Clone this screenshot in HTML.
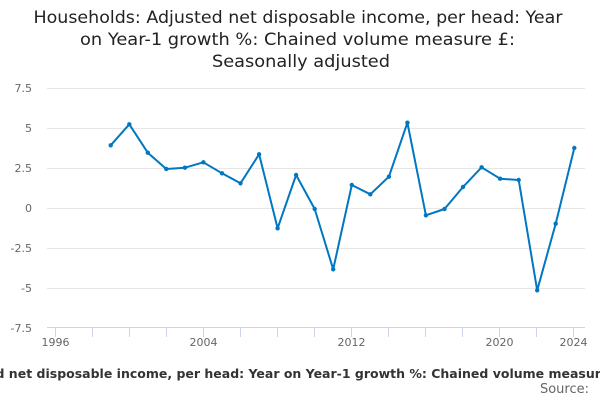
<!DOCTYPE html>
<html><head><meta charset="utf-8"><style>
html,body{margin:0;padding:0;background:#fff;}
svg{display:block;font-family:"DejaVu Sans","Liberation Sans",sans-serif;}
</style></head><body>
<svg width="600" height="400" viewBox="0 0 600 400" xmlns="http://www.w3.org/2000/svg">
<rect width="600" height="400" fill="#fff"/>
<g font-size="16.5" fill="#222" text-anchor="middle">
<text x="298" y="23" textLength="529" lengthAdjust="spacingAndGlyphs">Households: Adjusted net disposable income, per head: Year</text>
<text x="297.5" y="45" textLength="435" lengthAdjust="spacingAndGlyphs">on Year-1 growth %: Chained volume measure £:</text>
<text x="301" y="67" textLength="178" lengthAdjust="spacingAndGlyphs">Seasonally adjusted</text>
</g>
<g stroke="#e6e6e6" stroke-width="1">
<line x1="47" x2="585" y1="88.5" y2="88.5"/>
<line x1="47" x2="585" y1="128.5" y2="128.5"/>
<line x1="47" x2="585" y1="168.5" y2="168.5"/>
<line x1="47" x2="585" y1="208.5" y2="208.5"/>
<line x1="47" x2="585" y1="248.5" y2="248.5"/>
<line x1="47" x2="585" y1="288.5" y2="288.5"/>
</g>
<line x1="47" x2="585" y1="327.5" y2="327.5" stroke="#ccd6eb" stroke-width="1"/>
<g stroke="#ccd6eb" stroke-width="1">
<line x1="55.5" x2="55.5" y1="328" y2="337"/>
<line x1="92.5" x2="92.5" y1="328" y2="337"/>
<line x1="129.5" x2="129.5" y1="328" y2="337"/>
<line x1="166.5" x2="166.5" y1="328" y2="337"/>
<line x1="203.5" x2="203.5" y1="328" y2="337"/>
<line x1="240.5" x2="240.5" y1="328" y2="337"/>
<line x1="277.5" x2="277.5" y1="328" y2="337"/>
<line x1="314.5" x2="314.5" y1="328" y2="337"/>
<line x1="351.5" x2="351.5" y1="328" y2="337"/>
<line x1="388.5" x2="388.5" y1="328" y2="337"/>
<line x1="425.5" x2="425.5" y1="328" y2="337"/>
<line x1="462.5" x2="462.5" y1="328" y2="337"/>
<line x1="499.5" x2="499.5" y1="328" y2="337"/>
<line x1="536.5" x2="536.5" y1="328" y2="337"/>
<line x1="573.5" x2="573.5" y1="328" y2="337"/>
</g>
<g font-size="11" fill="#666" text-anchor="end">
<text x="32" y="92">7.5</text>
<text x="32" y="132">5</text>
<text x="32" y="172">2.5</text>
<text x="32" y="212">0</text>
<text x="32" y="252">-2.5</text>
<text x="32" y="292">-5</text>
<text x="32" y="332">-7.5</text>
</g>
<g font-size="11" fill="#666" text-anchor="middle">
<text x="55.5" y="346">1996</text>
<text x="203.5" y="346">2004</text>
<text x="351.5" y="346">2012</text>
<text x="499.5" y="346">2020</text>
<text x="573.5" y="346">2024</text>
</g>
<polyline fill="none" stroke="#0077c0" stroke-width="2" stroke-linejoin="round" points="110.7,145.3 129.3,124.3 147.8,152.7 166.3,169 184.9,167.7 203.4,162.3 222,173.3 240.5,183.3 259.1,154.3 277.6,228.3 296.1,175 314.7,209 333.2,269.3 351.8,185 370.3,194.3 388.9,176.7 407.4,122.7 425.9,215.3 444.5,209 463,187 481.6,167.3 500.1,178.7 518.7,180 537.2,290.3 555.7,223.7 574.3,148"/>
<g fill="#0077c0">
<circle cx="110.7" cy="145.3" r="2.2"/><circle cx="129.3" cy="124.3" r="2.2"/><circle cx="147.8" cy="152.7" r="2.2"/><circle cx="166.3" cy="169" r="2.2"/><circle cx="184.9" cy="167.7" r="2.2"/><circle cx="203.4" cy="162.3" r="2.2"/><circle cx="222" cy="173.3" r="2.2"/><circle cx="240.5" cy="183.3" r="2.2"/><circle cx="259.1" cy="154.3" r="2.2"/><circle cx="277.6" cy="228.3" r="2.2"/><circle cx="296.1" cy="175" r="2.2"/><circle cx="314.7" cy="209" r="2.2"/><circle cx="333.2" cy="269.3" r="2.2"/><circle cx="351.8" cy="185" r="2.2"/><circle cx="370.3" cy="194.3" r="2.2"/><circle cx="388.9" cy="176.7" r="2.2"/><circle cx="407.4" cy="122.7" r="2.2"/><circle cx="425.9" cy="215.3" r="2.2"/><circle cx="444.5" cy="209" r="2.2"/><circle cx="463" cy="187" r="2.2"/><circle cx="481.6" cy="167.3" r="2.2"/><circle cx="500.1" cy="178.7" r="2.2"/><circle cx="518.7" cy="180" r="2.2"/><circle cx="537.2" cy="290.3" r="2.2"/><circle cx="555.7" cy="223.7" r="2.2"/><circle cx="574.3" cy="148" r="2.2"/>
</g>
<text x="312" y="378" font-size="12.5" font-weight="bold" fill="#333" text-anchor="middle">Households: Adjusted net disposable income, per head: Year on Year-1 growth %: Chained volume measure £: Seasonally adjusted</text>
<text x="589" y="393" font-size="13" fill="#666" text-anchor="end">Source:</text>
</svg>
</body></html>
